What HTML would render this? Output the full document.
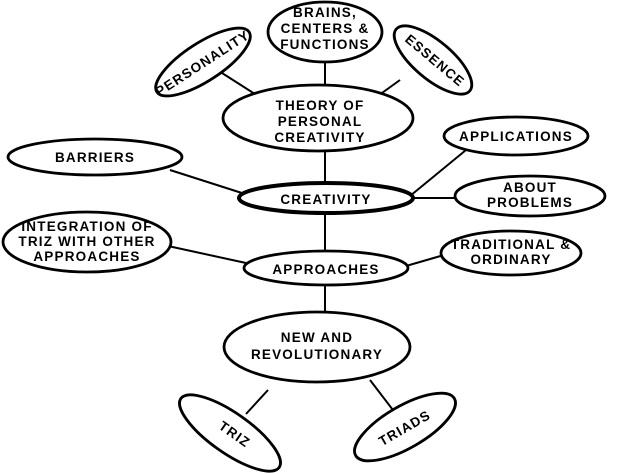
<!DOCTYPE html>
<html><head><style>body{margin:0;background:#fff}svg{display:block}text{font-family:"Liberation Sans",Arial,sans-serif;font-size:13.5px;font-weight:bold;letter-spacing:1.2px;text-anchor:middle;fill:#000}</style></head><body>
<svg width="630" height="474" viewBox="0 0 630 474" xmlns="http://www.w3.org/2000/svg">
<g stroke="#000" stroke-width="2" fill="none">
<line x1="325" y1="60" x2="325" y2="86"/>
<line x1="222" y1="73" x2="258" y2="96"/>
<line x1="400" y1="80" x2="375" y2="98"/>
<line x1="325" y1="150" x2="325" y2="184"/>
<line x1="170" y1="170" x2="245" y2="194"/>
<line x1="410" y1="196" x2="466" y2="150"/>
<line x1="410" y1="198" x2="456" y2="198"/>
<line x1="325" y1="212" x2="325" y2="252"/>
<line x1="168" y1="246" x2="246" y2="263"/>
<line x1="406" y1="266" x2="444" y2="255"/>
<line x1="325" y1="285" x2="325" y2="313"/>
<line x1="268" y1="390" x2="246" y2="414"/>
<line x1="370" y1="380" x2="396" y2="414"/>
</g>
<g stroke="#000" stroke-width="2.8" fill="#fff">
<ellipse cx="325" cy="32" rx="57" ry="30"/>
<ellipse cx="0" cy="0" rx="55" ry="19" transform="translate(203,62) rotate(-33)"/>
<ellipse cx="0" cy="0" rx="48" ry="19" transform="translate(433,60) rotate(40)"/>
<ellipse cx="318" cy="118" rx="95" ry="33"/>
<ellipse cx="516" cy="136" rx="72" ry="19"/>
<ellipse cx="530" cy="196" rx="75" ry="20"/>
<ellipse cx="95" cy="157" rx="87" ry="18"/>
<ellipse cx="87" cy="242" rx="84" ry="30"/>
<ellipse cx="326" cy="268" rx="82" ry="17"/>
<ellipse cx="511" cy="253" rx="70" ry="22"/>
<ellipse cx="317" cy="347" rx="93" ry="35"/>
<ellipse cx="0" cy="0" rx="60" ry="20" transform="translate(230,433) rotate(35)"/>
<ellipse cx="0" cy="0" rx="57" ry="21" transform="translate(405,427) rotate(-30)"/>
<ellipse cx="326" cy="198" rx="87" ry="15" stroke-width="4"/>
</g>
<text x="325" y="17">BRAINS,</text>
<text x="325" y="33">CENTERS &amp;</text>
<text x="325" y="49">FUNCTIONS</text>
<text transform="translate(205,67) rotate(-33)">PERSONALITY</text>
<text transform="translate(432,64) rotate(40)">ESSENCE</text>
<text x="320" y="110" font-size="15" letter-spacing="2">THEORY OF</text>
<text x="320" y="126" font-size="15" letter-spacing="2">PERSONAL</text>
<text x="320" y="142" font-size="15" letter-spacing="2">CREATIVITY</text>
<text x="516" y="141">APPLICATIONS</text>
<text x="530" y="192">ABOUT</text>
<text x="530" y="207">PROBLEMS</text>
<text x="95" y="162">BARRIERS</text>
<text x="87" y="231">INTEGRATION OF</text>
<text x="87" y="246">TRIZ WITH OTHER</text>
<text x="87" y="261">APPROACHES</text>
<text x="326" y="204" font-size="15.5" letter-spacing="2">CREATIVITY</text>
<text x="326" y="274" font-size="15.5" letter-spacing="2">APPROACHES</text>
<text x="511" y="249">TRADITIONAL &amp;</text>
<text x="511" y="264">ORDINARY</text>
<text x="317" y="342" font-size="14.5" letter-spacing="1.6">NEW AND</text>
<text x="317" y="359" font-size="14.5" letter-spacing="1.6">REVOLUTIONARY</text>
<text transform="translate(232,438) rotate(35)">TRIZ</text>
<text transform="translate(407,432) rotate(-30)">TRIADS</text>
</svg>
</body></html>
